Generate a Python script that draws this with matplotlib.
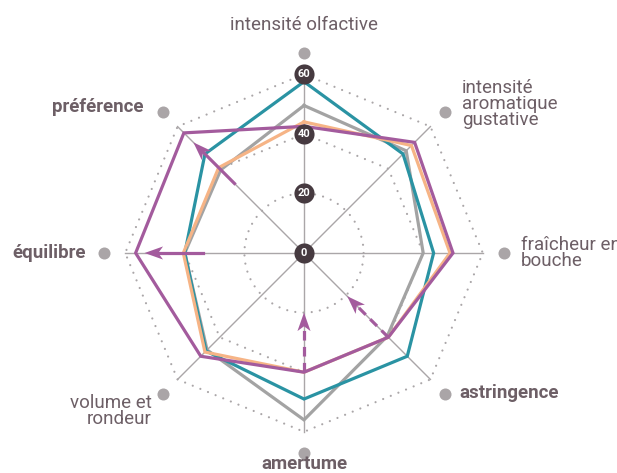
import numpy as np
import matplotlib.pyplot as plt
from matplotlib.patches import Polygon

plt.rcParams['font.family'] = ['Roboto', 'DejaVu Sans']

# criteres, sens horaire depuis le haut
criteres = ['intensité olfactive', 'intensité\naromatique\ngustative', 'fraîcheur en\nbouche',
            'astringence', 'amertume', 'volume et\nrondeur', 'équilibre', 'préférence']
gras = [False, False, False, True, True, False, True, True]

teal = [57.5, 47, 43.5, 49, 49, 46.5, 40, 47]
grey = [49.5, 48.5, 40, 39.5, 56, 46, 40, 39.5]
orange = [44, 51, 49, 40, 40, 47, 40.5, 40.5]
purple = [42.5, 52.5, 50, 40, 40, 49, 56.5, 57]

ticks = [0, 20, 40, 60]

# fleches : (axe, depart, arrivee, pointille)
fleches = [(6, 34, 53.5, False), (7, 33, 52.5, False), (4, 40, 20, True), (3, 40, 20.5, True)]

c_series = {'grey': '#a3a3a3', 'teal': '#2a93a3', 'orange': '#f6b486', 'purple': '#a35b9d'}
c_txt = '#6d5f66'
c_grid = '#aaa6a8'

n = len(criteres)
ang = np.pi / 2 - np.arange(n) * 2 * np.pi / n


def xy(i, r):
    return r * np.cos(ang[i]), r * np.sin(ang[i])


fig = plt.figure(figsize=(6.17, 4.73), dpi=100)
ax = fig.add_axes([0, 0, 1, 1])
sc = 2.98
ax.set_xlim(-304 / sc, (617 - 304) / sc)
ax.set_ylim(-220 / sc, 253 / sc)
ax.axis('off')

dots = dict(color=c_grid, lw=1.6, ls=(0, (0.01, 3.7)), dash_capstyle='round', zorder=1)

# rayons
for i in range(n):
    x, y = xy(i, 60)
    ax.plot([0, x], [0, y], color=c_grid, lw=1.0, zorder=1)

# grille pointillee
t = np.linspace(0, 2 * np.pi, 200)
ax.plot(20 * np.cos(t), 20 * np.sin(t), **dots)
for r in [40, 60]:
    pts = [xy(i % n, r) for i in range(n + 1)]
    ax.plot([p[0] for p in pts], [p[1] for p in pts], **dots)

# series
for name, vals in [('grey', grey), ('teal', teal), ('orange', orange), ('purple', purple)]:
    pts = [xy(i % n, vals[i % n]) for i in range(n + 1)]
    ax.plot([p[0] for p in pts], [p[1] for p in pts], color=c_series[name], lw=2.3,
            solid_joinstyle='miter', zorder=3)

# fleches (tige + pointe)
L, W, N = 6.2, 2.2, 4.6
for i, r0, r1, dash in fleches:
    d = 1 if r1 > r0 else -1
    x0, y0 = xy(i, r0)
    xb, yb = xy(i, r1 - d * N)
    ax.plot([x0, xb], [y0, yb], color=c_series['purple'], lw=2.3,
            ls=(0, (3, 2)) if dash else '-', zorder=4)
    ux, uy = np.cos(ang[i]) * d, np.sin(ang[i]) * d
    px, py = -uy, ux
    tx, ty = xy(i, r1)
    bx, by = tx - L * ux, ty - L * uy
    nx, ny = tx - N * ux, ty - N * uy
    head = Polygon([(tx, ty), (bx + W * px, by + W * py), (nx, ny), (bx - W * px, by - W * py)],
                   closed=True, color=c_series['purple'], lw=0, zorder=4)
    ax.add_patch(head)

# graduations
for v in ticks:
    ax.scatter([0], [v], s=210, color='#463a40', zorder=6, linewidths=0)
    ax.text(0, v, str(v), color='white', fontsize=8, fontweight='bold',
            ha='center', va='center', zorder=7)

# points des libelles
for i in range(n):
    x, y = xy(i, 67)
    ax.scatter([x], [y], s=75, color='#aaa5a7', zorder=2, linewidths=0)

pos = [(0, 76.5, 'center'), (53.0, 50.0, 'left'), (72.8, 0, 'left'), (52.3, -47.0, 'left'),
       (0, -70.8, 'center'), (-51.0, -53.0, 'right'), (-73.2, 0, 'right'), (-54.0, 49.0, 'right')]
for i in range(n):
    x, y, ha = pos[i]
    ax.text(x, y, criteres[i], color=c_txt, fontsize=13.5,
            fontweight='bold' if gras[i] else 'normal', ha=ha, va='center',
            multialignment=ha if ha != 'center' else 'center', linespacing=0.85)

fig.savefig('out.png', dpi=100)
